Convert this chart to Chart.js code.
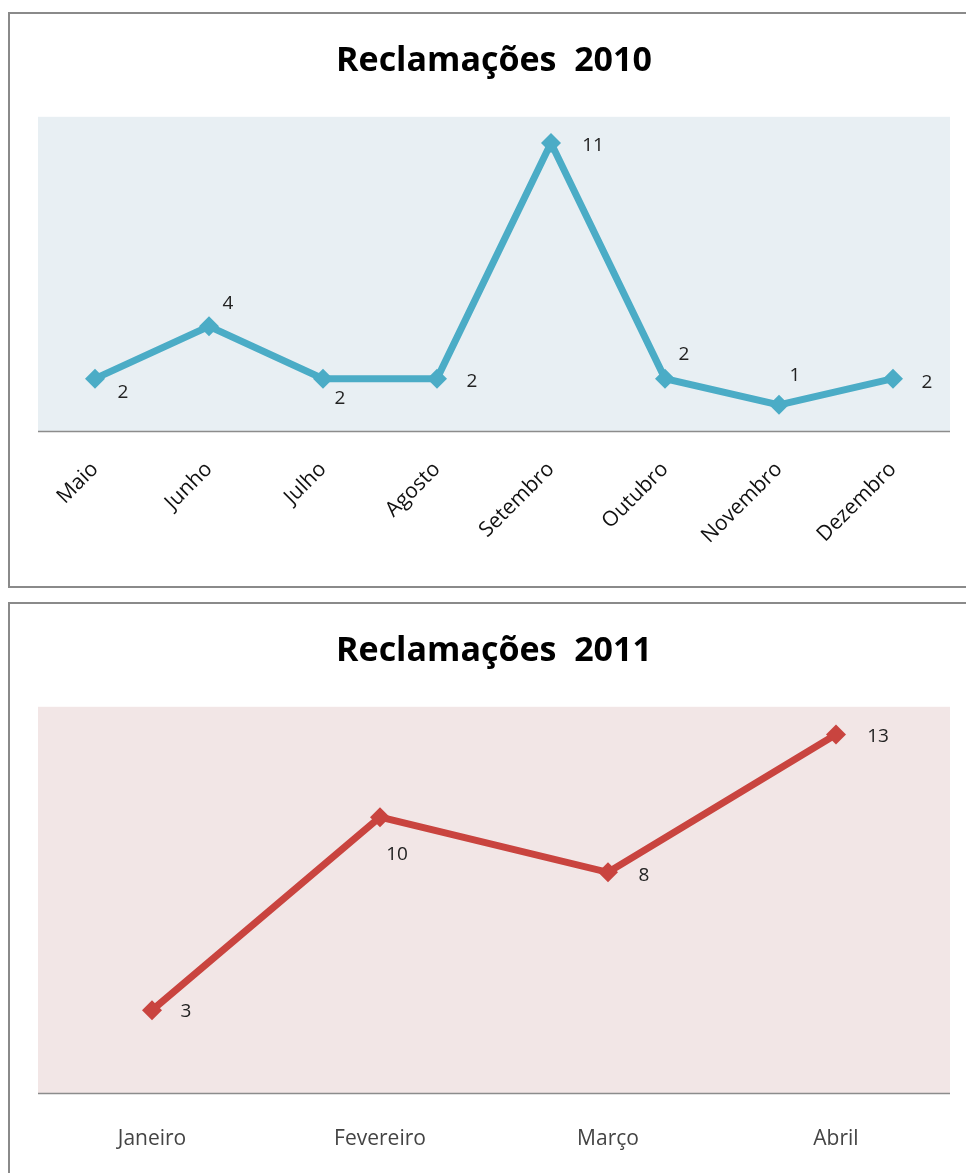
<!DOCTYPE html>
<html>
<head>
<meta charset="utf-8">
<script src="https://cdn.jsdelivr.net/npm/chart.js@4"></script>
<style>
  body { margin: 0; background: #fff; overflow: hidden; }
  .box { position: absolute; left: 8px; border: 2px solid #8a8a8a; background: #fff; }
  #box1 { top: 12px; width: 970px; height: 572px; }
  #box2 { top: 602px; width: 970px; height: 580px; border-bottom: none; }
  canvas { display: block; }
</style>
</head>
<body>
<div class="box" id="box1"><canvas id="chart2010" width="956" height="572"></canvas></div>
<div class="box" id="box2"><canvas id="chart2011" width="956" height="569"></canvas></div>
<script>
// data
const meses2010 = ['Maio', 'Junho', 'Julho', 'Agosto', 'Setembro', 'Outubro', 'Novembro', 'Dezembro'];
const valores2010 = [2, 4, 2, 2, 11, 2, 1, 2];
const meses2011 = ['Janeiro', 'Fevereiro', 'Março', 'Abril'];
const valores2011 = [3, 10, 8, 13];

// where each value label sits relative to its point (dx, dy)
const labelPos2010 = [[28, 14], [19, -23], [17, 20], [35, 3], [42, 3], [19, -24], [16, -29], [34, 4]];
const labelPos2011 = [[34, 1], [17, 37], [36, 3], [42, 2]];

const fontFamily = "'Open Sans', 'Noto Sans', sans-serif";

// fill plot area + draw value labels
const plotStuff = {
    id: 'plotStuff',
    beforeDraw(chart, args, opts) {
        const a = chart.chartArea;
        const ctx = chart.ctx;
        ctx.save();
        ctx.fillStyle = opts.bg;
        ctx.fillRect(a.left, a.top, a.right - a.left, a.bottom - a.top);
        ctx.restore();
    },
    afterDatasetsDraw(chart, args, opts) {
        const ctx = chart.ctx;
        const meta = chart.getDatasetMeta(0);
        const vals = chart.data.datasets[0].data;
        ctx.save();
        ctx.font = "19px " + fontFamily;
        ctx.fillStyle = '#222';
        ctx.textAlign = 'center';
        ctx.textBaseline = 'middle';
        meta.data.forEach((pt, i) => {
            const off = opts.pos[i];
            ctx.fillText(String(vals[i]), pt.x + off[0], pt.y + off[1]);
        });
        // axis line
        const a = chart.chartArea;
        ctx.strokeStyle = '#8c8c8c';
        ctx.lineWidth = 1.5;
        ctx.beginPath();
        ctx.moveTo(a.left, a.bottom + 0.5);
        ctx.lineTo(a.right, a.bottom + 0.5);
        ctx.stroke();
        ctx.restore();
    }
};

function makeChart(id, title, labels, values, color, bg, ymax, pos, rotate, axisH) {
    return new Chart(document.getElementById(id).getContext('2d'), {
        type: 'line',
        data: {
            labels: labels,
            datasets: [{
                data: values,
                borderColor: color,
                backgroundColor: color,
                borderWidth: 7,
                pointStyle: 'rectRot',
                pointRadius: 10,
                pointBorderWidth: 0,
                tension: 0
            }]
        },
        options: {
            responsive: false,
            animation: false,
            layout: { padding: { left: 28, right: 16, top: 0, bottom: 0 } },
            scales: {
                x: {
                    offset: true,
                    grid: { display: false, drawTicks: false },
                    border: { display: false },
                    ticks: {
                        color: rotate ? '#111' : '#444',
                        font: { family: fontFamily, size: rotate ? 21 : 21 },
                        minRotation: rotate ? 45 : 0,
                        maxRotation: rotate ? 45 : 0,
                        padding: rotate ? 26 : 33,
                        autoSkip: false
                    },
                    afterFit(scale) { scale.height = axisH; }
                },
                y: { display: false, min: 0, max: ymax }
            },
            plugins: {
                legend: { display: false },
                tooltip: { enabled: false },
                title: {
                    display: true,
                    text: title,
                    color: '#000',
                    font: { family: fontFamily, size: 34, weight: 'bold' },
                    padding: { top: 27, bottom: 35 }
                },
                plotStuff: { bg: bg, pos: pos }
            }
        },
        plugins: [plotStuff]
    });
}

makeChart('chart2010', 'Reclamações  2010', meses2010, valores2010, '#4bacc6', '#e8eff3', 12, labelPos2010, true, 155);
makeChart('chart2011', 'Reclamações  2011', meses2011, valores2011, '#c9443f', '#f2e6e6', 14, labelPos2011, false, 80);
</script>
</body>
</html>
